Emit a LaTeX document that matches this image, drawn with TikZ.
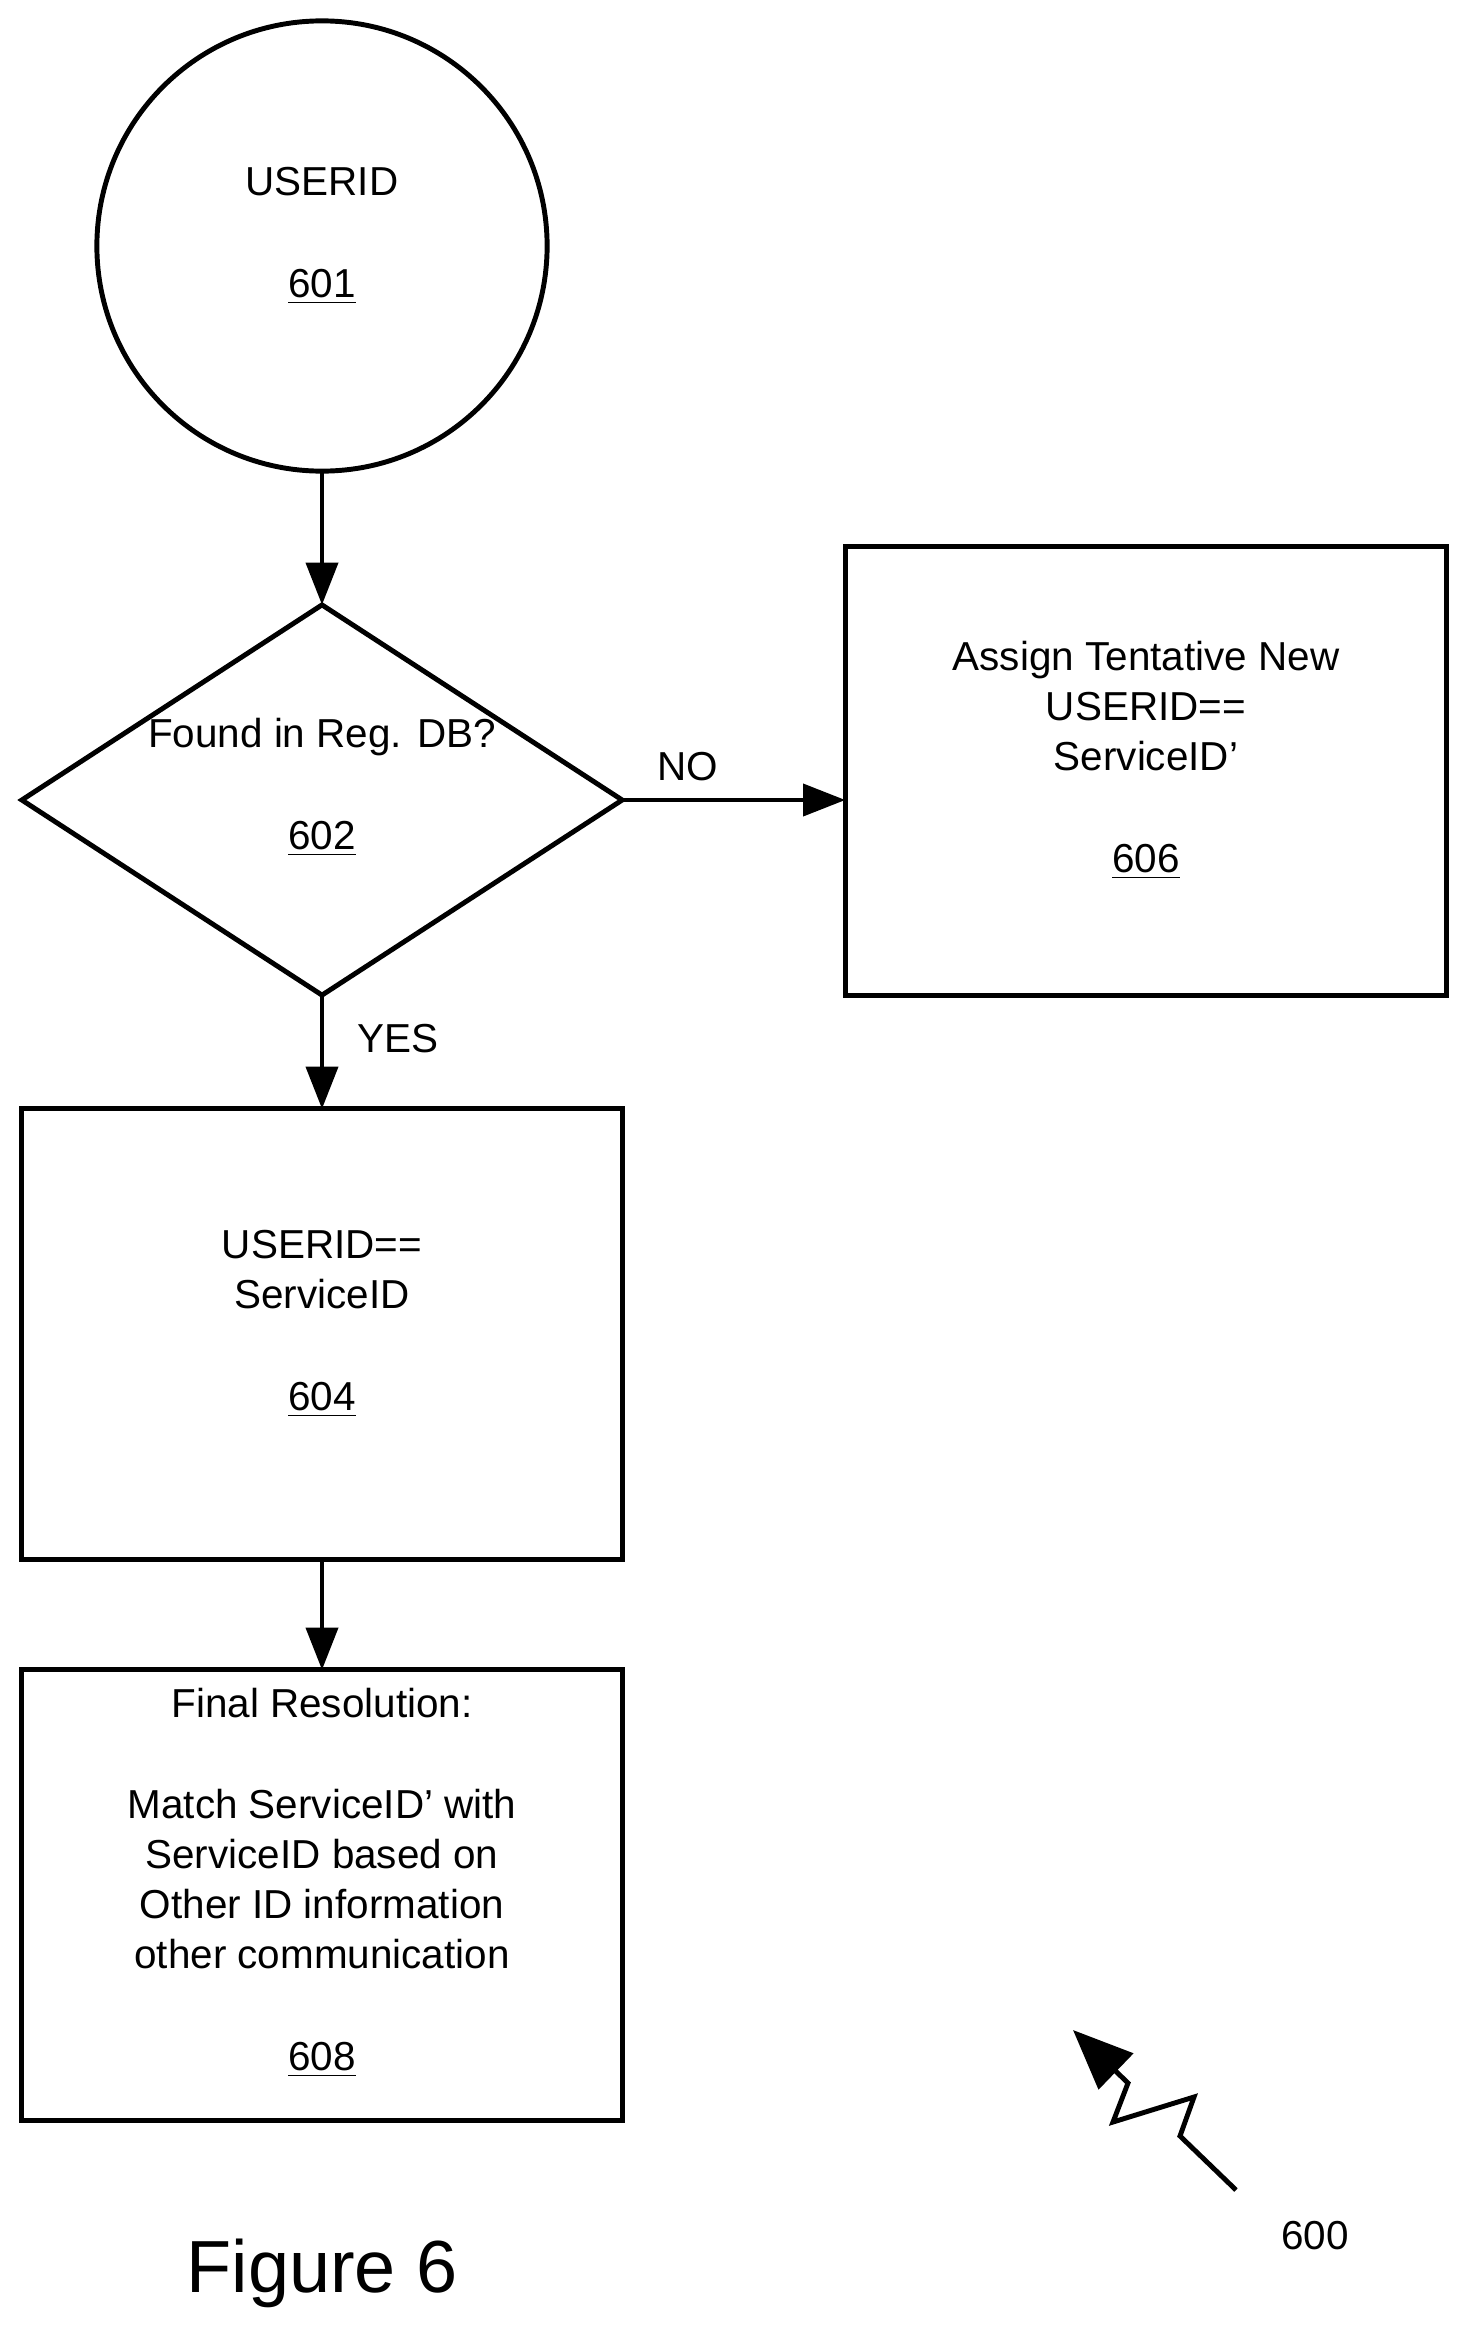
\documentclass[tikz,border=0pt]{standalone}
\usepackage{fontspec}
\setmainfont{Liberation Sans}
\usetikzlibrary{shapes.geometric,arrows.meta}
\begin{document}
\begin{tikzpicture}[x=0.01cm,y=-0.01cm,
  every node/.style={font=\fontsize{11.5}{14.2}\selectfont},
  shp/.style={draw,line width=1.4pt,inner sep=0,outer sep=0},
  txt/.style={align=center,inner sep=0,anchor=base},
  conn/.style={line width=1.4pt,-{Triangle[length=12pt,width=9pt]}}]
\useasboundingbox (0,0) rectangle (1471,2339);
\node[shp,circle,minimum size=4.5cm] (c601) at (322,246) {};
\node[txt] (t601) at (322,297) {USERID\\[14.6pt]\underline{601}};
\node[shp,diamond,minimum width=6cm,minimum height=3.9cm] (d602) at (322,800) {};
\node[txt] (t602) at (322,849) {Found in Reg. DB?\\[14.6pt]\underline{602}};
\node[shp,rectangle,minimum width=6.01cm,minimum height=4.48cm] (b606) at (1146,771) {};
\node[txt] (t606) at (1146,872) {Assign Tentative New\\USERID==\\ServiceID’\\[14.6pt]\underline{606}};
\node[shp,rectangle,minimum width=6cm,minimum height=4.5cm] (b604) at (322,1334) {};
\node[txt] (t604) at (322,1410) {USERID==\\ServiceID\\[14.6pt]\underline{604}};
\node[shp,rectangle,minimum width=6cm,minimum height=4.5cm] (b608) at (322,1895) {};
\node[txt] (t608) at (322,2070) {Final Resolution:\\[14.6pt]Match ServiceID’ with\\ServiceID based on\\Other ID information\\other communication\\[14.6pt]\underline{608}};
\draw[conn] (c601) -- (d602.north);
\draw[conn] (d602.east) -- (d602.east -| b606.west);
\draw[conn] (d602.south) -- (b604.north);
\draw[conn] (b604) -- (b608);
\node[txt] (no) at (688,780) {NO};
\node[txt] (yes) at (398,1052) {YES};
\coordinate (zs) at (1236,2190);
\coordinate (ze) at (1073,2030);
\draw[line width=1.4pt,-{Triangle[length=17pt,width=14pt]}] (zs)--(1180,2136)--(1194,2097)--(1113,2122)--(1128,2083)--(ze);
\node[txt] (n600) at (1315,2249) {600};
\node[txt,font=\fontsize{21}{25}\selectfont] (fig) at (322,2292) {Figure 6};
\end{tikzpicture}
\end{document}
